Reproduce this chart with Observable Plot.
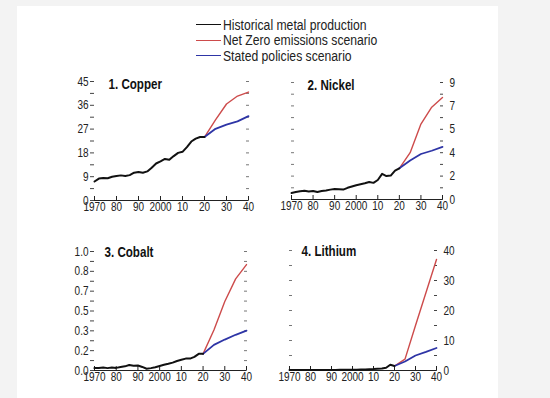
<!DOCTYPE html>
<html><head><meta charset="utf-8">
<script src="https://cdn.jsdelivr.net/npm/d3@7"></script>
<script src="https://cdn.jsdelivr.net/npm/@observablehq/plot@0.6"></script>
<style>
body{margin:0;background:#f3f3f3;}
#page{position:relative;width:550px;height:398px;background:#f3f3f3;overflow:hidden;font-family:"Liberation Sans Narrow","Liberation Sans",Arial,sans-serif;}
#white{position:absolute;left:17px;top:6px;width:481px;height:392px;background:#fff;}
.panel{position:absolute;}
.legend{position:absolute;left:196px;top:17px;font-size:14px;color:#222;}
.legend .row{display:flex;align-items:center;height:15.5px;white-space:nowrap;}
.legend .sw{width:25px;height:0;border-top:1.6px solid;margin-right:2px;flex:none;}
.legend span{display:inline-block;transform:scaleX(0.87);transform-origin:left center;}
</style></head>
<body><div id="page"><div id="white"></div><div class="legend" id="legend"></div></div>
<script>
// ---------- data ----------
const legendLabels = ["Historical metal production", "Net Zero emissions scenario", "Stated policies scenario"];
const seriesColors = ["#111111", "#cd4b4b", "#2e35a6"];
const panelTitles = ["1. Copper", "2. Nickel", "3. Cobalt", "4. Lithium"];

const histYears = [1970,1972,1974,1976,1978,1980,1982,1984,1986,1988,1990,1992,1994,1996,1998,2000,2002,2004,2006,2008,2010,2012,2014,2016,2018,2020];
const copperHist  = [7.2,8.3,8.5,8.4,9.0,9.3,9.5,9.3,9.6,10.5,10.8,10.5,11.0,12.4,14.0,14.8,15.7,15.4,16.8,18.0,18.4,20.2,22.3,23.4,24.0,24.0];
const nickelHist  = [0.5,0.58,0.64,0.68,0.62,0.66,0.57,0.65,0.7,0.76,0.8,0.78,0.76,0.9,1.0,1.1,1.18,1.25,1.35,1.28,1.5,1.97,1.8,1.84,2.22,2.4];
const cobaltHist  = [0.02,0.022,0.025,0.02,0.025,0.022,0.03,0.035,0.046,0.04,0.042,0.03,0.015,0.02,0.028,0.038,0.048,0.056,0.066,0.08,0.09,0.1,0.1,0.115,0.14,0.14];
const lithiumHist = [0.15,0.15,0.16,0.16,0.17,0.17,0.18,0.18,0.19,0.2,0.2,0.2,0.21,0.22,0.24,0.25,0.27,0.3,0.35,0.45,0.5,0.6,0.65,0.9,1.9,1.5];

const scenYears = [2020, 2025, 2030, 2035, 2040];
const copperNZE    = [24, 30.5, 36.5, 39.5, 41];
const copperSTEPS  = [24, 27.1, 28.7, 29.9, 31.9];
const nickelNZE    = [2.4, 3.6, 5.8, 7.1, 7.85];
const nickelSTEPS  = [2.4, 3.0, 3.5, 3.75, 4.05];
const cobaltNZE    = [0.14, 0.34, 0.58, 0.77, 0.89];
const cobaltSTEPS  = [0.14, 0.215, 0.26, 0.3, 0.335];
const lithiumNZE   = [1.5, 3.8, 15, 26, 37];
const lithiumSTEPS = [1.5, 3.0, 5.0, 6.2, 7.5];

const decades = [1970,1980,1990,2000,2010,2020,2030,2040];
const decadeLabels = ["1970","80","90","2000","10","20","30","40"];

const copperTicks  = [0,9,18,27,36,45];
const copperLabels = ["0","9","18","27","36","45"];
const nickelTicks  = [0,1.8,3.6,5.4,7.2,9];
const nickelLabels = ["0","2","4","5","7","9"];
const cobaltTicks  = [0,1/6,2/6,3/6,4/6,5/6,1];
const cobaltLabels = ["0.0","0.2","0.3","0.5","0.7","0.8","1.0"];
const lithiumTicks  = [0,10,20,30,40];
const lithiumLabels = ["0","10","20","30","40"];

// ---------- legend ----------
const leg = document.getElementById("legend");
legendLabels.forEach((l, i) => {
  const r = document.createElement("div"); r.className = "row";
  const s = document.createElement("div"); s.className = "sw"; s.style.borderTopColor = seriesColors[i];
  const t = document.createElement("span"); t.textContent = l;
  r.appendChild(s); r.appendChild(t); leg.appendChild(r);
});

// ---------- panels ----------
const FONT = '"Liberation Sans Narrow","Liberation Sans",Arial,sans-serif';
const NARROW = 0.8; // emulate Arial Narrow with a horizontally condensed Liberation Sans
function panel(cfg) {
  const {title, hist, nze, steps, ticks, labels, side, left, top, width, height, m, tdx, tdy} = cfg;
  const minor = ticks.slice(0, -1).map((t, i) => (t + ticks[i + 1]) / 2);
  const all = ticks.concat(minor).sort((a, b) => a - b);
  const fmt = d => { const i = ticks.findIndex(t => Math.abs(t - d) < 1e-9); return i >= 0 ? labels[i] : ""; };
  const H = histYears.map((y, i) => ({year: y, value: hist[i]}));
  const N = scenYears.map((y, i) => ({year: y, value: nze[i]}));
  const S = scenYears.map((y, i) => ({year: y, value: steps[i]}));
  const marks = [
    side === "left"
      ? Plot.axisY({anchor: "left", label: null, ticks: all, tickSize: 4, tickPadding: 2, tickFormat: fmt, stroke: "#444", fill: "#222"})
      : Plot.axisY({anchor: "right", label: null, ticks: all, tickSize: 0, tickPadding: 7, tickFormat: fmt, fill: "#222"}),
    side === "left"
      ? Plot.axisY({anchor: "right", label: null, ticks: all, tickSize: 3, dx: -3, tickFormat: () => "", stroke: "#777"})
      : Plot.axisY({anchor: "left", label: null, ticks: all, tickSize: 3, dx: 3, tickFormat: () => "", stroke: "#777"}),
    side === "right"
      ? Plot.axisY({anchor: "right", label: null, ticks: all, tickSize: 3, dx: -3, tickFormat: () => "", stroke: "#444"})
      : null,
    Plot.ruleY([0], {stroke: "#222", strokeWidth: 1}),
    Plot.axisX({label: null, ticks: decades, tickSize: 4, dy: -4, tickFormat: () => "", stroke: "#222"}),
    Plot.axisX({label: null, ticks: decades, tickSize: 0, tickPadding: 2, tickFormat: d => decadeLabels[decades.indexOf(d)], fill: "#222"}),
    Plot.line(N, {x: "year", y: "value", stroke: seriesColors[1], strokeWidth: 1.4}),
    Plot.line(S, {x: "year", y: "value", stroke: seriesColors[2], strokeWidth: 1.8}),
    Plot.line(H, {x: "year", y: "value", stroke: seriesColors[0], strokeWidth: 2}),
    Plot.text([title], {frameAnchor: "top-left", dx: tdx, dy: tdy, fontWeight: "bold", fontSize: 14.5, fill: "#111"})
  ].filter(Boolean);
  const svg = Plot.plot({
    width, height,
    marginLeft: m[0], marginRight: m[1], marginTop: m[2], marginBottom: m[3],
    x: {domain: [1970, 2040]},
    y: {domain: [ticks[0], ticks[ticks.length - 1]]},
    style: {fontFamily: FONT, fontSize: "12.5px", color: "#222", background: "transparent", overflow: "visible"},
    marks
  });
  svg.querySelectorAll("text").forEach(t => {
    const tr = t.getAttribute("transform") || "";
    t.setAttribute("transform", tr + ` scale(${NARROW},1)`);
  });
  const wrap = document.createElement("div");
  wrap.className = "panel";
  wrap.style.left = left + "px"; wrap.style.top = top + "px";
  wrap.appendChild(svg);
  document.getElementById("page").appendChild(wrap);
}

panel({title: panelTitles[0], hist: copperHist, nze: copperNZE, steps: copperSTEPS, ticks: copperTicks, labels: copperLabels,
  side: "left", left: 40, top: 66, width: 225, height: 151, m: [54, 17, 15, 17], tdx: 14, tdy: -3});
panel({title: panelTitles[1], hist: nickelHist, nze: nickelNZE, steps: nickelSTEPS, ticks: nickelTicks, labels: nickelLabels,
  side: "right", left: 270, top: 66, width: 200, height: 151, m: [21, 28, 16, 18], tdx: 16, tdy: -3});
panel({title: panelTitles[2], hist: cobaltHist, nze: cobaltNZE, steps: cobaltSTEPS, ticks: cobaltTicks, labels: cobaltLabels,
  side: "left", left: 40, top: 236, width: 225, height: 151, m: [54, 19, 15, 17], tdx: 10, tdy: -5});
panel({title: panelTitles[3], hist: lithiumHist, nze: lithiumNZE, steps: lithiumSTEPS, ticks: lithiumTicks, labels: lithiumLabels,
  side: "right", left: 270, top: 236, width: 200, height: 151, m: [19, 34, 14, 17], tdx: 12, tdy: -5});
</script>
</body></html>
